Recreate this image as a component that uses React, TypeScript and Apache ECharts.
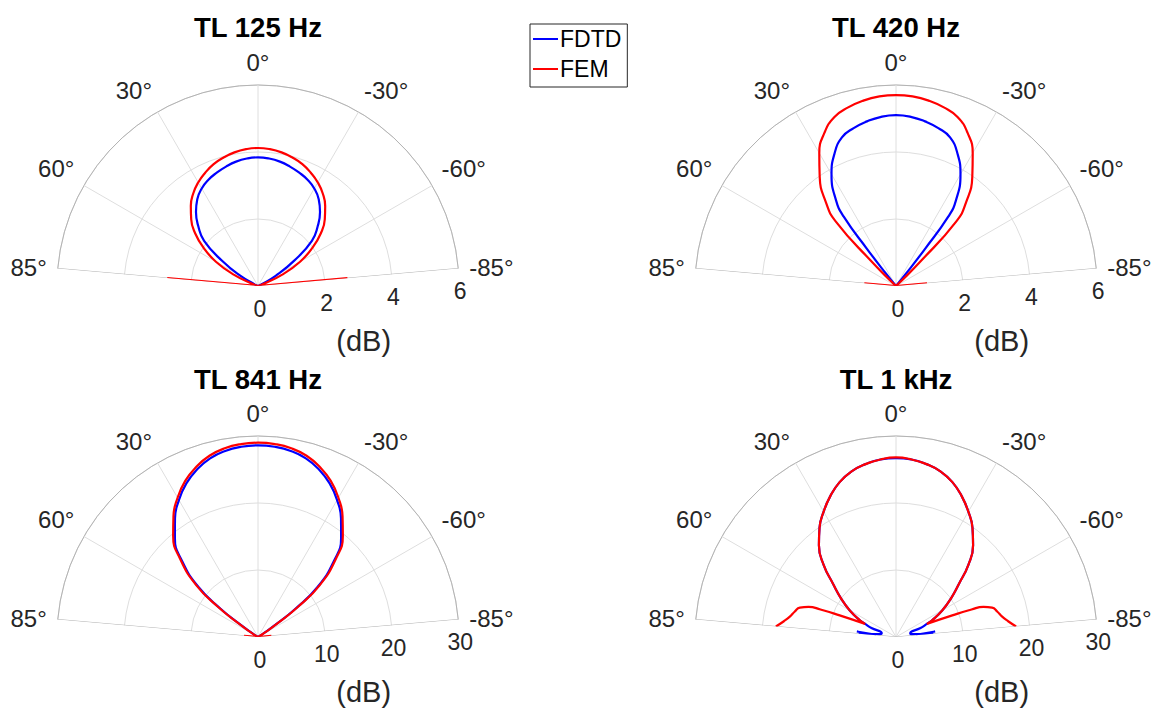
import React, { useEffect, useRef } from 'react';
import * as echarts from 'echarts';

const FONT = '"Liberation Sans", Arial, Helvetica, sans-serif';
const TEXT = '#262626';
const EDGE = '#b3b3b3';
const GRID = '#dedede';

const titles = ['TL 125 Hz', 'TL 420 Hz', 'TL 841 Hz', 'TL 1 kHz'];
const radiusMax = [6, 6, 30, 30];
const radiusStep = [2, 2, 10, 10];
const angleTicks = [-85, -60, -30, 0, 30, 60, 85];
const legendNames = ['FDTD', 'FEM'];

// [angle (deg), level (dB)]
const fdtd125: [number, number][] = [
  [-85, 0], [-80, 0], [-75, 0], [-70, 0], [-65, 0.12], [-60, 0.62], [-55, 1.32], [-50, 2.1],
  [-45, 2.52], [-40, 2.88], [-35, 3.16], [-30, 3.36], [-25, 3.5], [-20, 3.6], [-15, 3.69],
  [-10, 3.77], [-5, 3.82], [0, 3.84], [5, 3.82], [10, 3.77], [15, 3.69], [20, 3.6], [25, 3.5],
  [30, 3.36], [35, 3.16], [40, 2.88], [45, 2.52], [50, 2.1], [55, 1.3], [60, 0.6], [65, 0.1],
  [70, 0], [75, 0], [80, 0], [85, 0],
];
const fem125: [number, number][] = [
  [-85, 2.68], [-80, 0], [-75, 0], [-70, 0.15], [-65, 0.8], [-60, 1.45], [-55, 1.98], [-50, 2.45],
  [-45, 2.82], [-40, 3.12], [-35, 3.37], [-30, 3.57], [-25, 3.73], [-20, 3.87], [-15, 3.97],
  [-10, 4.05], [-5, 4.1], [0, 4.12], [5, 4.1], [10, 4.05], [15, 3.97], [20, 3.87], [25, 3.73],
  [30, 3.57], [35, 3.37], [40, 3.12], [45, 2.82], [50, 2.45], [55, 1.98], [60, 1.45], [65, 0.8],
  [70, 0.15], [75, 0], [80, 0], [85, 2.72],
];
const fdtd420: [number, number][] = [
  [-85, 0], [-40, 0], [-39, 0.5], [-38, 1.4], [-37, 2.6], [-35, 3.12], [-30, 3.85], [-25, 4.35],
  [-20, 4.72], [-15, 4.88], [-10, 4.99], [-5, 5.07], [0, 5.1], [5, 5.07], [10, 4.99], [15, 4.88],
  [20, 4.72], [25, 4.35], [30, 3.85], [35, 3.12], [37, 2.6], [38, 1.4], [39, 0.5], [40, 0], [85, 0],
];
const fem420: [number, number][] = [
  [-85, 0.93], [-80, 0], [-50, 0], [-47, 0.15], [-45, 1.0], [-43, 2.65], [-40, 3.25], [-35, 3.97],
  [-30, 4.58], [-25, 5.05], [-20, 5.37], [-15, 5.52], [-10, 5.62], [-5, 5.68], [0, 5.7], [5, 5.68],
  [10, 5.62], [15, 5.52], [20, 5.37], [25, 5.05], [30, 4.58], [35, 3.97], [40, 3.25], [43, 2.65],
  [45, 1.0], [47, 0.15], [50, 0], [80, 0], [85, 0.95],
];
const fdtd841: [number, number][] = [
  [-85, 0], [-59, 0], [-57, 0.8], [-55, 3.2], [-53, 7.0], [-50, 11.6], [-45, 16.0], [-40, 19.3],
  [-35, 21.6], [-30, 23.6], [-25, 25.3], [-20, 26.6], [-15, 27.6], [-10, 28.2], [-5, 28.5], [0, 28.6],
  [5, 28.5], [10, 28.2], [15, 27.6], [20, 26.6], [25, 25.3], [30, 23.6], [35, 21.6], [40, 19.3],
  [45, 16.0], [50, 11.6], [53, 7.0], [55, 3.2], [57, 0.8], [59, 0], [85, 0],
];
const fem841: [number, number][] = [
  [-85, 2.0], [-80, 0], [-59, 0], [-57, 1.2], [-55, 3.6], [-53, 7.5], [-50, 12.0], [-45, 16.4],
  [-40, 19.7], [-35, 22.0], [-30, 24.0], [-25, 25.7], [-20, 27.0], [-15, 28.0], [-10, 28.6], [-5, 28.9],
  [0, 29.0], [5, 28.9], [10, 28.6], [15, 28.0], [20, 27.0], [25, 25.7], [30, 24.0], [35, 22.0],
  [40, 19.7], [45, 16.4], [50, 12.0], [53, 7.5], [55, 3.6], [57, 1.2], [59, 0], [80, 0], [85, 2.1],
];
const fdtd1k: [number, number][] = [
  [-85, 5.6], [-84, 3.0], [-82, 5.9], [-80, 2.4], [-75, 2.2], [-70, 3.9], [-67, 5.0], [-65, 6.0],
  [-60, 8.0], [-55, 10.0], [-50, 12.2], [-45, 15.3], [-40, 17.9], [-35, 19.9], [-30, 21.6],
  [-25, 23.2], [-20, 24.6], [-15, 25.6], [-10, 26.2], [-5, 26.6], [0, 26.7], [5, 26.6], [10, 26.2],
  [15, 25.6], [20, 24.6], [25, 23.2], [30, 21.6], [35, 19.9], [40, 17.9], [45, 15.3], [50, 12.2],
  [55, 10.0], [60, 8.0], [65, 6.0], [67, 5.0], [70, 3.9], [75, 2.2], [80, 2.4], [82, 5.9], [84, 3.0],
  [85, 5.6],
];
const fem1k: [number, number][] = [
  [-85, 18.0], [-82, 16.9], [-79, 16.1], [-76, 15.6], [-73, 15.0], [-71, 13.8], [-70, 12.0],
  [-69, 9.0], [-67, 5.0], [-65, 6.0], [-60, 8.0], [-55, 10.0], [-50, 12.2], [-45, 15.3], [-40, 17.9],
  [-35, 19.9], [-30, 21.6], [-25, 23.2], [-20, 24.6], [-15, 25.6], [-10, 26.2], [-5, 26.6], [0, 26.8],
  [5, 26.6], [10, 26.2], [15, 25.6], [20, 24.6], [25, 23.2], [30, 21.6], [35, 19.9], [40, 17.9],
  [45, 15.3], [50, 12.2], [55, 10.0], [60, 8.0], [65, 6.0], [67, 5.0], [69, 9.0], [70, 12.0],
  [71, 13.8], [73, 15.0], [76, 15.6], [79, 16.1], [82, 16.9], [85, 18.0],
];

const fdtdSets = [fdtd125, fdtd420, fdtd841, fdtd1k];
const femSets = [fem125, fem420, fem841, fem1k];

export default function App() {
  const ref = useRef<HTMLDivElement>(null);
  useEffect(() => {
    document.body.style.margin = '0';
    const chart = echarts.init(ref.current!, null, { renderer: 'svg' });
    const centers = [[258, 286], [896, 286], [258, 637], [896, 637]];
    const titleTops = [13, 13, 365, 365];
    const series: any[] = [];
    for (let i = 0; i < 4; i++) {
      angleTicks.forEach((a) => {
        const edge = Math.abs(a) === 85;
        series.push({
          type: 'line', coordinateSystem: 'polar', polarIndex: i, silent: true,
          symbol: 'none', z: edge ? 1 : 0,
          data: [[0, a], [radiusMax[i], a]],
          lineStyle: { color: edge ? EDGE : GRID, width: 1 },
        });
      });
      series.push({
        name: legendNames[0], type: 'line', coordinateSystem: 'polar', polarIndex: i,
        symbol: 'none', z: 3, color: '#0000ff', smooth: 0.5,
        data: fdtdSets[i].map(([a, v]) => [v, a]),
        lineStyle: { color: '#0000ff', width: 2.2 },
      });
      series.push({
        name: legendNames[1], type: 'line', coordinateSystem: 'polar', polarIndex: i,
        symbol: 'none', z: 4, color: '#ff0000', smooth: 0.5,
        data: femSets[i].map(([a, v]) => [v, a]),
        lineStyle: { color: '#ff0000', width: 2.2 },
      });
    }
    chart.setOption({
      animation: false,
      backgroundColor: '#ffffff',
      textStyle: { fontFamily: FONT },
      title: titles.map((t, i) => ({
        text: t, left: centers[i][0], top: titleTops[i], textAlign: 'center', padding: 0,
        textStyle: { fontSize: 27.5, fontWeight: 'bold', color: '#000', fontFamily: FONT },
      })),
      legend: {
        data: legendNames, orient: 'vertical', left: 530, top: 24,
        icon: 'rect', itemWidth: 25, itemHeight: 2, itemGap: 2,
        padding: [1, 6, 4, 3], borderColor: '#262626', borderWidth: 1,
        backgroundColor: '#fff', borderRadius: 0,
        textStyle: { fontSize: 23, color: '#000', fontFamily: FONT, lineHeight: 28, padding: [0, 0, 0, -3] },
      },
      polar: centers.map((c) => ({ center: c, radius: 201 })),
      angleAxis: centers.map((_, i) => ({
        polarIndex: i, type: 'value', min: -85, max: 85, interval: 5,
        startAngle: 5, endAngle: 175, clockwise: false,
        axisLine: { show: true, lineStyle: { color: EDGE, width: 1 } },
        axisTick: { show: false }, splitLine: { show: false },
        axisLabel: {
          margin: 11, fontSize: 24, color: TEXT, fontFamily: FONT,
          formatter: (v: number) => (angleTicks.includes(v) ? `${v}°` : ''),
        },
      })),
      radiusAxis: centers.map((_, i) => ({
        polarIndex: i, type: 'value', min: 0, max: radiusMax[i], interval: radiusStep[i],
        axisLine: { show: false }, axisTick: { show: false },
        splitLine: { show: true, lineStyle: { color: GRID, width: 1 } },
        axisLabel: {
          margin: -23, align: 'center', verticalAlign: 'middle', fontSize: 23, color: TEXT, fontFamily: FONT,
        },
        name: '(dB)', nameLocation: 'middle', nameGap: 64, nameRotate: 0,
        nameTextStyle: { fontSize: 29, color: TEXT, fontFamily: FONT, align: 'center', verticalAlign: 'middle' },
      })),
      series,
    });
    return () => chart.dispose();
  }, []);
  return <div ref={ref} style={{ width: 1152, height: 709 }} />;
}
